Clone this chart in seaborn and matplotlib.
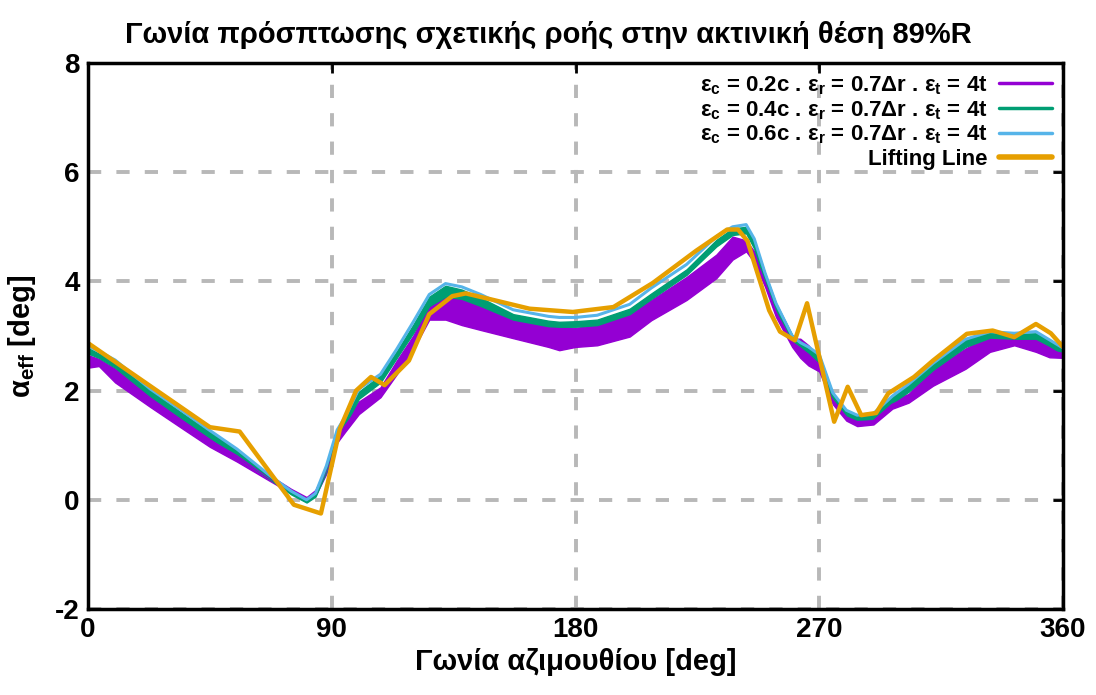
import matplotlib
matplotlib.use("Agg")
import matplotlib.pyplot as plt
from matplotlib.lines import Line2D
import seaborn as sns
import pandas as pd

# ---------------- data ----------------
cfd_ang = [0, 4, 10, 23, 35, 45, 55, 67, 75, 80.7, 84, 88, 92, 95, 100, 108, 114, 120, 126,
           132, 138, 145, 157, 170, 174, 180, 188, 200, 208, 221, 232, 238, 243, 246, 250,
           254, 260, 263, 266, 270, 275, 280, 284, 290, 297, 303, 312, 324, 333, 342, 350,
           355, 360]

purple_hi = [2.65, 2.58, 2.40, 1.95, 1.55, 1.20, 0.90, 0.45, 0.20, 0.05, 0.18, 0.60, 1.20, 1.45,
             1.80, 2.06, 2.55, 3.00, 3.57, 3.79, 3.72, 3.54, 3.33, 3.20, 3.17, 3.15, 3.20, 3.42,
             3.66, 4.08, 4.49, 4.82, 4.75, 4.55, 4.05, 3.50, 2.95, 2.95, 2.83, 2.60, 1.90, 1.57,
             1.50, 1.50, 1.82, 1.94, 2.40, 2.77, 3.00, 3.00, 2.95, 2.83, 2.75]
purple_lo = [2.42, 2.45, 2.15, 1.70, 1.30, 0.97, 0.70, 0.35, 0.12, -0.02, 0.08, 0.48, 1.05, 1.25,
             1.57, 1.88, 2.30, 2.75, 3.30, 3.30, 3.20, 3.11, 2.96, 2.80, 2.74, 2.80, 2.83, 2.99,
             3.29, 3.66, 4.06, 4.40, 4.55, 4.35, 3.90, 3.35, 2.80, 2.60, 2.46, 2.35, 1.75, 1.45,
             1.35, 1.38, 1.67, 1.78, 2.09, 2.40, 2.71, 2.83, 2.71, 2.61, 2.60]

green_hi = [2.78, 2.68, 2.52, 2.00, 1.58, 1.24, 0.90, 0.46, 0.17, 0.02, 0.14, 0.62, 1.25, 1.50,
            1.98, 2.28, 2.72, 3.20, 3.72, 3.92, 3.85, 3.70, 3.40, 3.28, 3.26, 3.27, 3.30, 3.50,
            3.78, 4.22, 4.76, 4.97, 5.00, 4.75, 4.15, 3.60, 3.02, 2.90, 2.80, 2.65, 1.95, 1.63,
            1.55, 1.58, 1.90, 2.10, 2.50, 2.93, 3.07, 3.04, 3.05, 2.92, 2.77]
green_lo = [2.68, 2.60, 2.42, 1.90, 1.48, 1.14, 0.80, 0.38, 0.10, -0.05, 0.06, 0.52, 1.15, 1.38,
            1.85, 2.15, 2.60, 3.05, 3.55, 3.72, 3.68, 3.55, 3.30, 3.18, 3.17, 3.17, 3.20, 3.40,
            3.68, 4.12, 4.64, 4.85, 4.88, 4.60, 4.00, 3.48, 2.92, 2.80, 2.70, 2.50, 1.82, 1.52,
            1.45, 1.48, 1.78, 1.98, 2.38, 2.80, 2.97, 2.95, 2.95, 2.82, 2.67]

cyan_val = [2.82, 2.72, 2.56, 2.03, 1.62, 1.27, 0.93, 0.45, 0.16, 0.00, 0.12, 0.62, 1.28, 1.52,
            2.03, 2.30, 2.76, 3.25, 3.76, 3.96, 3.90, 3.76, 3.48, 3.36, 3.34, 3.34, 3.38, 3.58,
            3.88, 4.31, 4.82, 5.00, 5.04, 4.78, 4.15, 3.60, 3.00, 2.88, 2.80, 2.66, 1.96, 1.64,
            1.55, 1.58, 1.90, 2.12, 2.50, 2.94, 3.08, 3.05, 3.08, 2.93, 2.78]

ll_ang = [0, 45, 56, 76, 86, 93, 99, 104.5, 109.5, 113.5, 118.5, 126, 134.5, 139.5, 150.5, 163,
          179, 194, 208.5, 224.5, 236, 240, 243.5, 246.5, 251.5, 255.5, 261, 265.5, 275.5, 280.5,
          285.5, 291, 295.5, 305, 312, 324.5, 334, 342, 350, 355.5, 360]
ll_val = [2.87, 1.33, 1.25, -0.09, -0.25, 1.30, 2.00, 2.25, 2.10, 2.30, 2.55, 3.40, 3.73, 3.78,
          3.65, 3.50, 3.44, 3.53, 3.97, 4.56, 4.95, 4.95, 4.74, 4.26, 3.47, 3.08, 2.92, 3.60, 1.43,
          2.07, 1.55, 1.59, 1.95, 2.25, 2.55, 3.04, 3.10, 2.98, 3.22, 3.05, 2.80]

labels = [r"ε$_\mathregular{c}$ = 0.2c . ε$_\mathregular{r}$ = 0.7Δr . ε$_\mathregular{t}$ = 4t",
          r"ε$_\mathregular{c}$ = 0.4c . ε$_\mathregular{r}$ = 0.7Δr . ε$_\mathregular{t}$ = 4t",
          r"ε$_\mathregular{c}$ = 0.6c . ε$_\mathregular{r}$ = 0.7Δr . ε$_\mathregular{t}$ = 4t",
          "Lifting Line"]
colors = ["#9400D3", "#009E73", "#56B4E9", "#E69F00"]
x_ticks = [0, 90, 180, 270, 360]
y_ticks = [-2, 0, 2, 4, 6, 8]
title = "Γωνία πρόσπτωσης σχετικής ροής στην ακτινική θέση 89%R"
xlabel = "Γωνία αζιμουθίου [deg]"
ylabel = r"α$_\mathregular{eff}$ [deg]"

# ---------------- style ----------------
sns.set_theme(style="white")
plt.rcParams["font.family"] = ["Liberation Sans", "DejaVu Sans"]
plt.rcParams["font.weight"] = "bold"
plt.rcParams["text.color"] = "black"
plt.rcParams["axes.labelcolor"] = "black"
plt.rcParams["xtick.color"] = "black"
plt.rcParams["ytick.color"] = "black"

fig = plt.figure(figsize=(10.96, 6.95), dpi=100)
ax = fig.add_axes([0.0803, 0.1237, 0.8896, 0.7857])

def band_frame(ang, hi, lo):
    return pd.DataFrame({"ang": list(ang) * 2, "val": list(hi) + list(lo)})

sns.lineplot(data=band_frame(cfd_ang, purple_hi, purple_lo), x="ang", y="val", ax=ax,
             color=colors[0], lw=1.5, estimator="mean", errorbar=("pi", 100),
             err_kws={"alpha": 1.0, "lw": 1.0, "edgecolor": colors[0]})
sns.lineplot(data=band_frame(cfd_ang, green_hi, green_lo), x="ang", y="val", ax=ax,
             color=colors[1], lw=1.5, estimator="mean", errorbar=("pi", 100),
             err_kws={"alpha": 1.0, "lw": 1.0, "edgecolor": colors[1]})
sns.lineplot(x=cfd_ang, y=cyan_val, ax=ax, color=colors[2], lw=2.2)
sns.lineplot(x=ll_ang, y=ll_val, ax=ax, color=colors[3], lw=3.2, sort=False)

ax.set_xlim(0, 360)
ax.set_ylim(-2, 8)
ax.set_xticks(x_ticks)
ax.set_yticks(y_ticks)
ax.set_xticklabels([str(t) for t in x_ticks])
ax.set_yticklabels([str(t) for t in y_ticks])
ax.tick_params(direction="in", length=7, width=2, top=True, right=True,
               labelsize=20, pad=6, colors="black")
for lab in ax.get_xticklabels() + ax.get_yticklabels():
    lab.set_fontweight("bold")
ax.grid(True, color="#b8b8b8", lw=2.8, linestyle=(0, (3.4, 3.9)))
ax.set_axisbelow(True)
for s in ax.spines.values():
    s.set_visible(True)
    s.set_color("black")
    s.set_linewidth(2.5)

ax.set_xlabel(xlabel, fontsize=21, fontweight="bold", labelpad=3)
ax.set_ylabel(ylabel, fontsize=21, fontweight="bold", labelpad=12)
fig.suptitle(title, fontsize=21, fontweight="bold", y=0.97, color="black")

handles = [Line2D([0], [0], color=colors[0], lw=2.5),
           Line2D([0], [0], color=colors[1], lw=2.5),
           Line2D([0], [0], color=colors[2], lw=2.5),
           Line2D([0], [0], color=colors[3], lw=4)]
leg = ax.legend(handles, labels, loc="upper right", markerfirst=False, frameon=False,
                fontsize=16, handlelength=2.4, labelspacing=0.1, handletextpad=0.5,
                borderaxespad=0.1)
for t in leg.get_texts():
    t.set_fontweight("bold")
    t.set_color("black")

fig.savefig("out.png", dpi=100)
